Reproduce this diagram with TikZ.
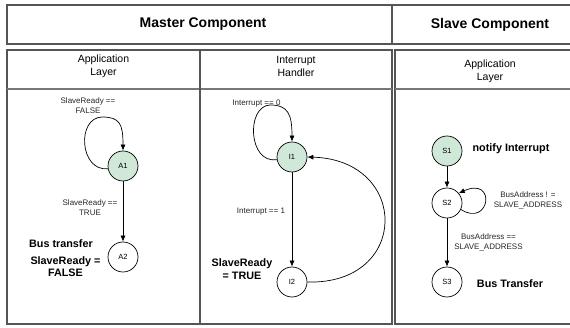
\documentclass[tikz,border=0pt]{standalone}
\usepackage{fontspec}
\setmainfont{Liberation Sans}
\usetikzlibrary{arrows.meta}
\definecolor{stgreen}{HTML}{CFE8D7}
\definecolor{framec}{HTML}{555555}
\tikzset{
  frameline/.style={draw=framec, line width=1.2pt},
  sepline/.style={draw=framec!80, line width=1.2pt},
  state/.style={circle, draw=black, line width=0.7pt, minimum size=30pt, inner sep=0pt, font=\fontsize{7.5}{8}\selectfont},
  active/.style={state, fill=stgreen},
  trans/.style={draw=black, line width=0.7pt, -{Latex[length=6pt,width=5pt]}},
  small/.style={align=center, inner sep=0pt, font=\fontsize{8}{10}\selectfont, text=black!85},
  boldlbl/.style={align=center, inner sep=0pt, font=\fontsize{10.8}{12.5}\selectfont\bfseries},
  headtext/.style={inner sep=0pt, font=\fontsize{14}{16}\selectfont\bfseries},
  coltext/.style={align=center, inner sep=0pt, font=\fontsize{10.5}{13.5}\selectfont}
}
\begin{document}
\begin{tikzpicture}[x=1pt,y=-1pt]
\useasboundingbox (0,0) rectangle (570,328);
\clip (0,0) rectangle (570,328);
% header row
\draw[frameline] (7,5) rectangle (595,44);
\draw[frameline] (392,5) -- (392,44);
\node[headtext] (hm) at (203,24.5) {Master Component};
\node[headtext] (hs) at (490,24.5) {Slave Component};
% master box
\draw[frameline] (7,50) rectangle (392,324);
\draw[sepline] (7,89) -- (392,89);
\draw[frameline] (200,50) -- (200,324);
% slave box
\draw[frameline] (395,50) rectangle (595,324);
\draw[sepline] (395,89) -- (595,89);
\node[coltext] (cA) at (103.5,66.5) {Application\\Layer};
\node[coltext] (cI) at (296,66.5) {Interrupt\\Handler};
\node[coltext] (cS) at (490,71.5) {Application\\Layer};

% master application layer
\node[active] (A1) at (123,166) {A1};
\node[state] (A2) at (123,257) {A2};
\draw[trans] (A1.190) .. controls (80,172) and (76,118) .. (102,117)
  .. controls (120,117) and (123,124) .. (A1.north);
\draw[trans] (A1) -- (A2);
\node[small] (lA1) at (88,106) {SlaveReady ==\\FALSE};
\node[small] (lA2) at (90,208) {SlaveReady ==\\TRUE};
\node[boldlbl] (bA1) at (61,244) {Bus transfer};
\node[boldlbl] (bA2) at (65.5,266.5) {SlaveReady =\\FALSE};

% master interrupt handler
\node[active] (I1) at (292,157) {I1};
\node[state] (I2) at (292,282) {I2};
\draw[trans] (I1.190) .. controls (248,164) and (246,106) .. (270,105)
  .. controls (288,105) and (292,114) .. (I1.north);
\draw[trans] (I1) -- (I2);
\draw[trans] (I2.east) .. controls (410,285) and (410,160) .. (I1.east);
\node[small] (lI1) at (256.5,104) {Interrupt == 0};
\node[small] (lI2) at (261,212) {Interrupt == 1};
\node[boldlbl] (bI1) at (242,269) {SlaveReady\\= TRUE};

% slave application layer
\node[active] (S1) at (447,151) {S1};
\node[state] (S2) at (447,203) {S2};
\node[state] (S3) at (447,282) {S3};
\draw[trans] (S1) -- (S2);
\draw[trans] (S2) -- (S3);
\draw[trans] (S2.-25) .. controls (490,228) and (497,176) .. (S2.40);
\node[boldlbl] (bS1) at (511,149) {notify Interrupt};
\node[small] (lS1) at (528,200) {BusAddress ! =\\SLAVE\_ADDRESS};
\node[small] (lS2) at (488.5,242) {BusAddress ==\\SLAVE\_ADDRESS};
\node[boldlbl] (bS3) at (510,284) {Bus Transfer};
\end{tikzpicture}
\end{document}
